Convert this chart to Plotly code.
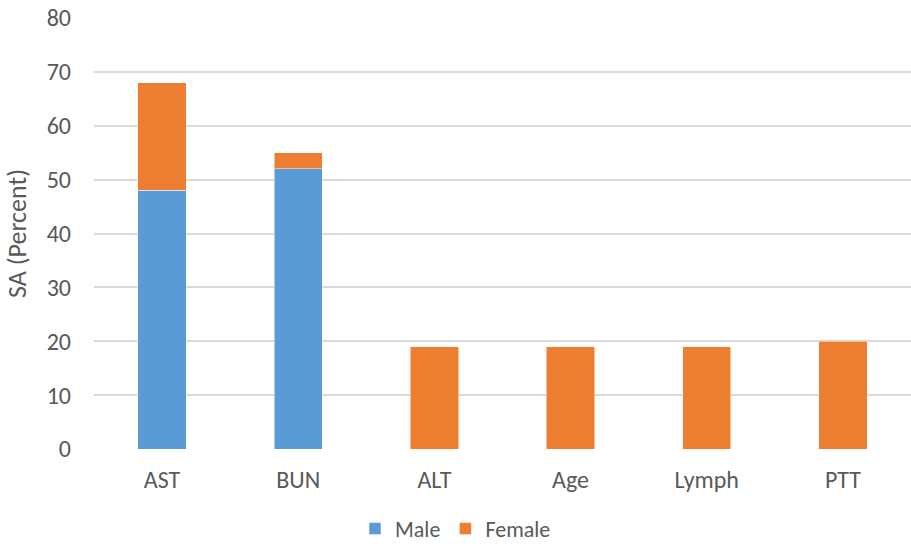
import plotly.graph_objects as go

categories = ["AST", "BUN", "ALT", "Age", "Lymph", "PTT"]
male = [48, 52, 0, 0, 0, 0]
female = [20, 3, 19, 19, 19, 20]
y_ticks = [0, 10, 20, 30, 40, 50, 60, 70, 80]

font_family = "Carlito, Calibri, 'Open Sans', sans-serif"
text_color = "#595959"

fig = go.Figure()
fig.add_trace(go.Bar(
    name="Male", x=categories, y=male,
    marker=dict(color="#5b9bd5", line=dict(color="rgba(255,255,255,0.5)", width=1)),
))
fig.add_trace(go.Bar(
    name="Female", x=categories, y=female,
    marker=dict(color="#ed7d31", line=dict(color="rgba(255,255,255,0.5)", width=1)),
))

fig.update_layout(
    barmode="stack",
    bargap=0.645,
    width=911, height=547,
    margin=dict(l=94, r=0, t=18, b=98, autoexpand=False),
    paper_bgcolor="white", plot_bgcolor="white",
    font=dict(family=font_family, size=24, color=text_color),
    showlegend=True,
    legend=dict(orientation="h", xref="container", x=0.5, xanchor="center",
                yref="paper", y=-0.185, yanchor="middle",
                font=dict(size=22, color=text_color), itemwidth=30,
                tracegroupgap=0, traceorder="normal"),
    xaxis=dict(showgrid=False, showline=False, ticks="", tickfont=dict(size=24),
               ticklabelstandoff=14),
    yaxis=dict(
        range=[0, 80], tickvals=y_ticks, showgrid=True, gridcolor="#d9d9d9", gridwidth=1.5,
        zeroline=False, showline=False, ticks="", ticklabelstandoff=22,
        tickfont=dict(size=24),
        title=dict(text="SA (Percent)", font=dict(size=26, color=text_color), standoff=12),
    ),
)

fig.write_html("out.html")
